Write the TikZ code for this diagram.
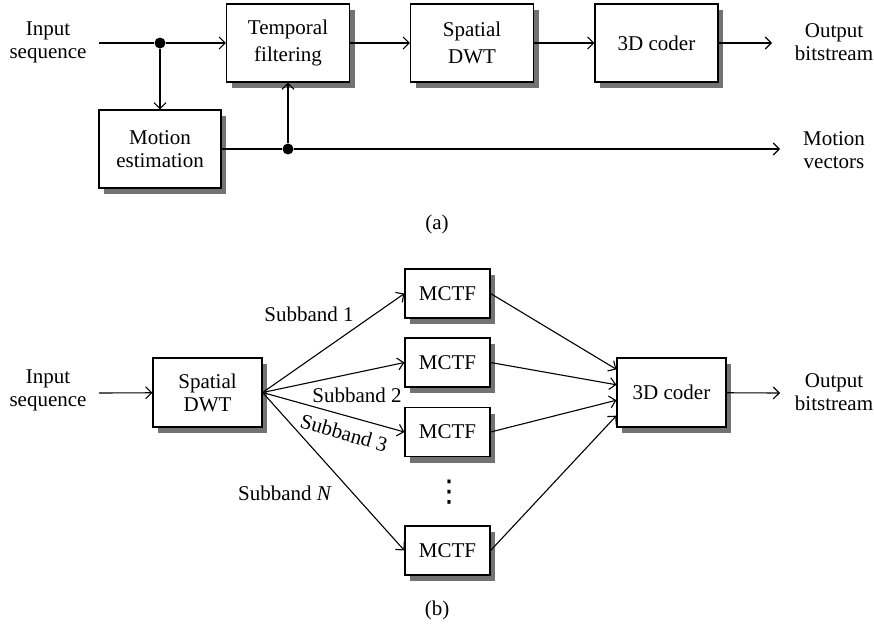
\documentclass[tikz,border=0pt]{standalone}
\usepackage{fontspec}
\setmainfont{Liberation Serif}
\newfontfamily\symfont{DejaVu Sans}
\usetikzlibrary{arrows.meta,shadows,calc}
\begin{document}
\begin{tikzpicture}[x=1pt,y=-1pt,
  font=\fontsize{21}{23}\selectfont,
  line width=1.1pt,
  >={Straight Barb[length=6pt,width=12pt]},
  block/.style={draw, fill=white, line width=1.2pt, align=center, inner sep=0pt,
    drop shadow={shadow xshift=5pt, shadow yshift=-6pt, fill=black!55, opacity=1}},
  bigbox/.style={block, minimum width=123pt, minimum height=78pt},
  midbox/.style={block, minimum width=109pt, minimum height=69pt},
  mctf/.style={block, minimum width=85pt, minimum height=49pt},
  lbl/.style={align=center, inner sep=0pt},
  junction/.style={circle, fill=black, inner sep=0pt, minimum size=11pt}
]
\useasboundingbox (0,0) rectangle (874,625);

% ---------- (a) MCTF followed by spatial DWT ----------
\node[lbl] (inA) at (48,42) {Input\\sequence};
\coordinate (sA) at (99,43);
\node[bigbox] (tf) at (288,43) {Temporal\\[4pt]filtering};
\node[bigbox] (sdA) at (472,43) {Spatial\\[4pt]DWT};
\node[bigbox] (cA) at (656.5,43) {3D coder};
\node[bigbox, minimum width=122pt] (me) at (160,149) {Motion\\estimation};
\node[junction] (j1) at (160,43) {};
\node[junction] (j2) at (288,149) {};
\node[lbl] (outA) at (834,42) {Output\\bitstream};
\node[lbl] (mv) at (834,150) {Motion\\vectors};
\coordinate (eA) at (772,43);
\coordinate (eMV) at (780,149);

\draw (sA) -- (j1);
\draw[->] (j1) -- (tf);
\draw[->] (j1) -- (me);
\draw[->] (tf) -- (sdA);
\draw[->] (sdA) -- (cA);
\draw[->] (cA) -- (eA);
\draw (me) -- (j2);
\draw[->] (j2) -- (tf);
\draw[->] (j2) -- (eMV);

\node (capA) at (437,224) {(a)};

% ---------- (b) spatial DWT followed by MCTF per subband ----------
\node[lbl] (inB) at (48,390) {Input\\sequence};
\coordinate (sB) at (99,393);
\node[midbox] (sdB) at (207.5,392.5) {Spatial\\DWT};
\node[mctf] (m1) at (447.5,293.5) {MCTF};
\node[mctf] (m2) at (447.5,362.5) {MCTF};
\node[mctf] (m3) at (447.5,432) {MCTF};
\node[mctf] (mN) at (447.5,550.5) {MCTF};
\node[midbox] (cB) at (671.5,392.5) {3D coder};
\node[lbl] (outB) at (834,392) {Output\\bitstream};
\coordinate (eB) at (780,393);
% vertical ellipsis between the third and the last filter
\node[lbl, font=\symfont\fontsize{30}{30}\selectfont] (vd) at (449,492) {⋮};

\draw[->] (sB) -- (sdB);
\draw[->] (sdB.east) -- (m1.west);
\draw[->] (sdB.east) -- (m2.west);
\draw[->] (sdB.east) -- (m3.west);
\draw[->] (sdB.east) -- (mN.west);
\draw[->] (m1.east) -- ($(cB.north west)!0.17!(cB.south west)$);
\draw[->] (m2.east) -- ($(cB.north west)!0.39!(cB.south west)$);
\draw[->] (m3.east) -- ($(cB.north west)!0.61!(cB.south west)$);
\draw[->] (mN.east) -- ($(cB.north west)!0.83!(cB.south west)$);
\draw[->] (cB) -- (eB);

\node[lbl] (sb1) at (309,314) {Subband 1};
\node[lbl] (sb2) at (357,395) {Subband 2};
\node[lbl, rotate=-16] (sb3) at (344,433) {Subband 3};
\node[lbl] (sbN) at (285,493) {Subband \textit{N}};

\node (capB) at (437,610) {(b)};
\end{tikzpicture}
\end{document}
